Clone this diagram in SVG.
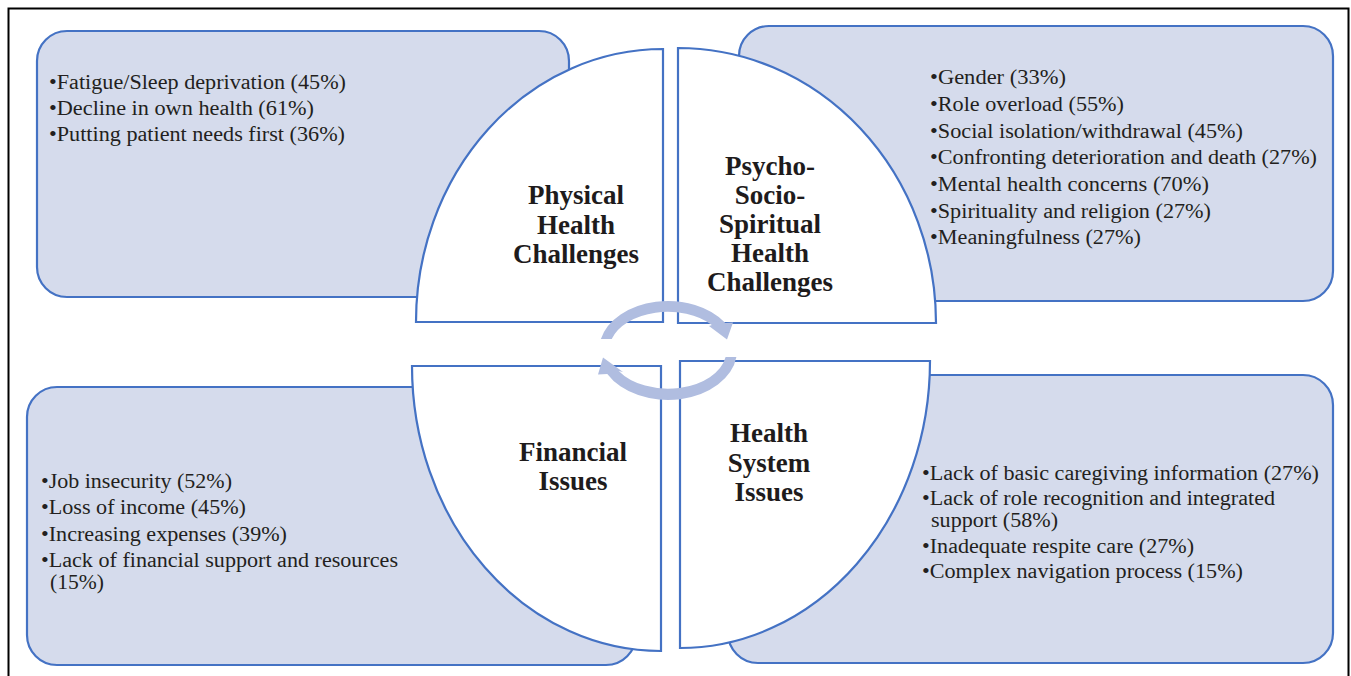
<svg xmlns="http://www.w3.org/2000/svg" width="1351" height="676" viewBox="0 0 1351 676">
  <style>
    .frame { fill: none; stroke: #000000; stroke-width: 2; }
    .box { fill: #d5dbec; stroke: #4472c4; stroke-width: 2.2; }
    .quad { fill: #ffffff; stroke: #4472c4; stroke-width: 2.2; }
    .item { font-family: "Liberation Serif", "Times New Roman", serif; font-size: 20.5px; fill: #231f20; }
    .title { font-family: "Liberation Serif", "Times New Roman", serif; font-size: 27px; font-weight: bold; fill: #1e1b1c; text-anchor: middle; }
    .cycle { fill: #b0bde0; stroke: none; }
  </style>

  <!-- page frame -->
  <path class="frame" d="M 8.5,676 L 8.5,8.5 L 1348.5,8.5 L 1348.5,676"/>

  <!-- top-left: physical health -->
  <g id="physical">
    <rect class="box" x="37" y="31" width="532" height="266" rx="30" ry="30"/>
    <path class="quad" d="M 663,49 L 663,322 L 416,322 A 247 273 0 0 1 663,49 Z"/>
    <text class="item" x="49" y="89" textLength="297" lengthAdjust="spacingAndGlyphs">•Fatigue/Sleep deprivation (45%)</text>
    <text class="item" x="49" y="115" textLength="265" lengthAdjust="spacingAndGlyphs">•Decline in own health (61%)</text>
    <text class="item" x="49" y="141" textLength="296" lengthAdjust="spacingAndGlyphs">•Putting patient needs first (36%)</text>
    <text class="title" x="576" y="204">Physical</text>
    <text class="title" x="576" y="233.5">Health</text>
    <text class="title" x="576" y="263">Challenges</text>
  </g>

  <!-- top-right: psycho-socio-spiritual health -->
  <g id="psychosocial">
    <rect class="box" x="739" y="26" width="594" height="275" rx="30" ry="30"/>
    <path class="quad" d="M 678,48 L 678,323 L 936,323 A 258 275 0 0 0 678,48 Z"/>
    <text class="item" x="930" y="84.3" textLength="136" lengthAdjust="spacingAndGlyphs">•Gender (33%)</text>
    <text class="item" x="930" y="111" textLength="194" lengthAdjust="spacingAndGlyphs">•Role overload (55%)</text>
    <text class="item" x="930" y="137.7" textLength="313" lengthAdjust="spacingAndGlyphs">•Social isolation/withdrawal (45%)</text>
    <text class="item" x="930" y="164.3" textLength="387" lengthAdjust="spacingAndGlyphs">•Confronting deterioration and death (27%)</text>
    <text class="item" x="930" y="191" textLength="279" lengthAdjust="spacingAndGlyphs">•Mental health concerns (70%)</text>
    <text class="item" x="930" y="217.7" textLength="281" lengthAdjust="spacingAndGlyphs">•Spirituality and religion (27%)</text>
    <text class="item" x="930" y="244.3" textLength="211" lengthAdjust="spacingAndGlyphs">•Meaningfulness (27%)</text>
    <text class="title" x="770" y="175">Psycho-</text>
    <text class="title" x="770" y="204">Socio-</text>
    <text class="title" x="770" y="233">Spiritual</text>
    <text class="title" x="770" y="262">Health</text>
    <text class="title" x="770" y="291">Challenges</text>
  </g>

  <!-- bottom-left: financial issues -->
  <g id="financial">
    <rect class="box" x="27" y="387" width="609" height="278" rx="30" ry="30"/>
    <path class="quad" d="M 412,366 L 661,366 L 661,651 A 249 285 0 0 1 412,366 Z"/>
    <text class="item" x="41" y="488.3" textLength="191" lengthAdjust="spacingAndGlyphs">•Job insecurity (52%)</text>
    <text class="item" x="41" y="514.3" textLength="205" lengthAdjust="spacingAndGlyphs">•Loss of income (45%)</text>
    <text class="item" x="41" y="541" textLength="246" lengthAdjust="spacingAndGlyphs">•Increasing expenses (39%)</text>
    <text class="item" x="41" y="567.3" textLength="357" lengthAdjust="spacingAndGlyphs">•Lack of financial support and resources</text>
    <text class="item" x="50" y="589.3" textLength="54" lengthAdjust="spacingAndGlyphs">(15%)</text>
    <text class="title" x="573" y="460.7">Financial</text>
    <text class="title" x="573" y="490">Issues</text>
  </g>

  <!-- bottom-right: health system issues -->
  <g id="healthsystem">
    <rect class="box" x="728" y="375" width="605" height="288" rx="30" ry="30"/>
    <path class="quad" d="M 680,361 L 930,361 A 250 287 0 0 1 680,648 Z"/>
    <text class="item" x="922" y="480" textLength="397" lengthAdjust="spacingAndGlyphs">•Lack of basic caregiving information (27%)</text>
    <text class="item" x="922" y="505" textLength="353" lengthAdjust="spacingAndGlyphs">•Lack of role recognition and integrated</text>
    <text class="item" x="931" y="526.7" textLength="127" lengthAdjust="spacingAndGlyphs">support (58%)</text>
    <text class="item" x="922" y="552.7" textLength="272" lengthAdjust="spacingAndGlyphs">•Inadequate respite care (27%)</text>
    <text class="item" x="922" y="578.3" textLength="321" lengthAdjust="spacingAndGlyphs">•Complex navigation process (15%)</text>
    <text class="title" x="769" y="442">Health</text>
    <text class="title" x="769" y="472">System</text>
    <text class="title" x="769" y="501">Issues</text>
  </g>

  <!-- central cycle arrows: upper band heads down on the right, lower band heads up on the left -->
  <g id="connectors">
    <path class="cycle" d="M 600.9,339 A 69 49.5 0 0 1 725.4,323 L 733,322.5 L 727,339.5 L 709,326 L 711.9,325 A 58.5 38.3 0 0 0 611.7,339 Z"/>
    <path class="cycle" d="M 736.4,357 A 69 49.5 0 0 1 607.3,374 L 598,374.5 L 603,357.5 L 623,372 L 618.7,371 A 58.5 38.3 0 0 0 725.6,357 Z"/>
  </g>
</svg>
